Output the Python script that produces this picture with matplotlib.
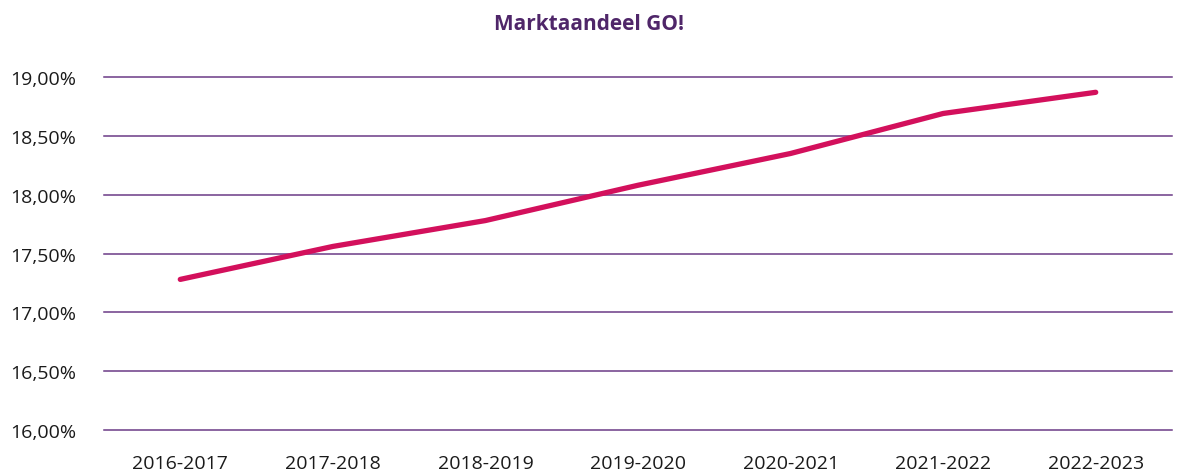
import matplotlib
matplotlib.use("Agg")
import matplotlib.pyplot as plt
from matplotlib.ticker import FuncFormatter

# data
seasons = ['2016-2017', '2017-2018', '2018-2019', '2019-2020',
           '2020-2021', '2021-2022', '2022-2023']
share = [17.28, 17.56, 17.78, 18.08, 18.35, 18.69, 18.87]
yticks = [16.0, 16.5, 17.0, 17.5, 18.0, 18.5, 19.0]

plt.rcParams['font.family'] = ['Open Sans', 'DejaVu Sans']

fig = plt.figure(figsize=(11.79, 4.77), dpi=100)
ax = fig.add_axes([104 / 1179, 1 - 431 / 477, (1172 - 104) / 1179, (431 - 78) / 477])

x = list(range(len(seasons)))
ax.plot(x, share, color='#D3105C', linewidth=3.8, solid_capstyle='round', zorder=3)

ax.set_xlim(-0.5, len(seasons) - 0.5)
ax.set_ylim(16.0, 19.0)
ax.set_yticks(yticks)
ax.yaxis.set_major_formatter(FuncFormatter(lambda v, p: f'{v:.2f}%'.replace('.', ',')))
ax.set_xticks(x)
ax.set_xticklabels(seasons)

ax.grid(axis='y', color='#6B3A86', linewidth=1.1)
for gl in ax.get_ygridlines():
    gl.set_clip_on(False)
ax.set_axisbelow(True)
for s in ax.spines.values():
    s.set_visible(False)
ax.tick_params(axis='both', length=0, labelsize=14, colors='#1a1a1a')
ax.tick_params(axis='y', pad=20)
ax.tick_params(axis='x', pad=17)

fig.text(0.5, 1 - 25 / 477, 'Marktaandeel GO!', ha='center', va='center',
         fontsize=15, fontweight='bold', color='#4F2669')

fig.savefig('out.png', dpi=100)
